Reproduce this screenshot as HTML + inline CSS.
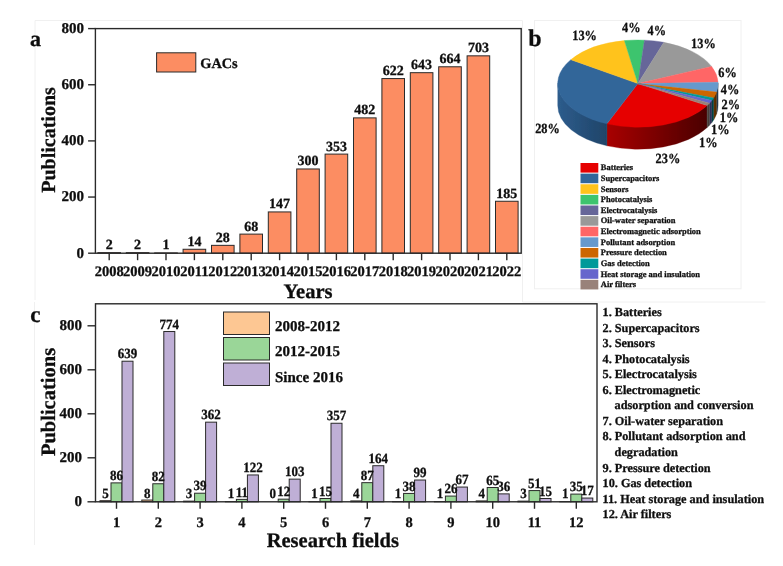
<!DOCTYPE html>
<html><head><meta charset="utf-8"><title>GACs publications</title>
<style>
html,body{margin:0;padding:0;background:#fff;}
svg{display:block;}
text{font-family:"Liberation Serif",serif;font-weight:bold;fill:#111;stroke:#111;stroke-width:0.3px;text-rendering:geometricPrecision;}
</style></head><body>
<svg width="783" height="566" viewBox="0 0 783 566">
<defs>
<filter id="soft" x="-5%" y="-5%" width="110%" height="110%"><feGaussianBlur stdDeviation="0.45"/></filter>
</defs>
<rect width="783" height="566" fill="#fff"/>
<g filter="url(#soft)">

<path d="M35 300V20.5H522.5V302H765.5" fill="none" stroke="#f0f0f0" stroke-width="1"/>
<rect x="534.5" y="20.5" width="206.5" height="268.3" fill="none" stroke="#f0f0f0" stroke-width="1"/>
<path d="M34.5 302V545" fill="none" stroke="#f0f0f0" stroke-width="1"/>
<text x="30" y="46" font-size="22">a</text>
<rect x="97.90" y="252.64" width="22.6" height="0.56" fill="#fc8d62" stroke="#2a2a2a" stroke-width="1"/>
<text x="109.20" y="249.14" font-size="14" text-anchor="middle">2</text>
<rect x="126.30" y="252.64" width="22.6" height="0.56" fill="#fc8d62" stroke="#2a2a2a" stroke-width="1"/>
<text x="137.60" y="249.14" font-size="14" text-anchor="middle">2</text>
<rect x="154.70" y="252.92" width="22.6" height="0.28" fill="#fc8d62" stroke="#2a2a2a" stroke-width="1"/>
<text x="166.00" y="249.42" font-size="14" text-anchor="middle">1</text>
<rect x="183.10" y="249.27" width="22.6" height="3.93" fill="#fc8d62" stroke="#2a2a2a" stroke-width="1"/>
<text x="194.40" y="245.77" font-size="14" text-anchor="middle">14</text>
<rect x="211.50" y="245.34" width="22.6" height="7.86" fill="#fc8d62" stroke="#2a2a2a" stroke-width="1"/>
<text x="222.80" y="241.84" font-size="14" text-anchor="middle">28</text>
<rect x="239.90" y="234.11" width="22.6" height="19.09" fill="#fc8d62" stroke="#2a2a2a" stroke-width="1"/>
<text x="251.20" y="230.61" font-size="14" text-anchor="middle">68</text>
<rect x="268.30" y="211.93" width="22.6" height="41.27" fill="#fc8d62" stroke="#2a2a2a" stroke-width="1"/>
<text x="279.60" y="208.43" font-size="14" text-anchor="middle">147</text>
<rect x="296.70" y="168.97" width="22.6" height="84.22" fill="#fc8d62" stroke="#2a2a2a" stroke-width="1"/>
<text x="308.00" y="165.47" font-size="14" text-anchor="middle">300</text>
<rect x="325.10" y="154.10" width="22.6" height="99.10" fill="#fc8d62" stroke="#2a2a2a" stroke-width="1"/>
<text x="336.40" y="150.60" font-size="14" text-anchor="middle">353</text>
<rect x="353.50" y="117.88" width="22.6" height="135.32" fill="#fc8d62" stroke="#2a2a2a" stroke-width="1"/>
<text x="364.80" y="114.38" font-size="14" text-anchor="middle">482</text>
<rect x="381.90" y="78.57" width="22.6" height="174.63" fill="#fc8d62" stroke="#2a2a2a" stroke-width="1"/>
<text x="393.20" y="75.07" font-size="14" text-anchor="middle">622</text>
<rect x="410.30" y="72.68" width="22.6" height="180.52" fill="#fc8d62" stroke="#2a2a2a" stroke-width="1"/>
<text x="421.60" y="69.18" font-size="14" text-anchor="middle">643</text>
<rect x="438.70" y="66.78" width="22.6" height="186.42" fill="#fc8d62" stroke="#2a2a2a" stroke-width="1"/>
<text x="450.00" y="63.28" font-size="14" text-anchor="middle">664</text>
<rect x="467.10" y="55.83" width="22.6" height="197.37" fill="#fc8d62" stroke="#2a2a2a" stroke-width="1"/>
<text x="478.40" y="52.33" font-size="14" text-anchor="middle">703</text>
<rect x="495.50" y="201.26" width="22.6" height="51.94" fill="#fc8d62" stroke="#2a2a2a" stroke-width="1"/>
<text x="506.80" y="197.76" font-size="14" text-anchor="middle">185</text>
<rect x="95.4" y="28.6" width="425.80" height="224.60" fill="none" stroke="#2a2a2a" stroke-width="1.4"/>
<path d="M88.10000000000001 253.20H95.4" stroke="#2a2a2a" stroke-width="1.4"/>
<text x="83.9" y="257.50" font-size="15" text-anchor="end">0</text>
<path d="M88.10000000000001 197.05H95.4" stroke="#2a2a2a" stroke-width="1.4"/>
<text x="83.9" y="201.35" font-size="15" text-anchor="end">200</text>
<path d="M88.10000000000001 140.90H95.4" stroke="#2a2a2a" stroke-width="1.4"/>
<text x="83.9" y="145.20" font-size="15" text-anchor="end">400</text>
<path d="M88.10000000000001 84.75H95.4" stroke="#2a2a2a" stroke-width="1.4"/>
<text x="83.9" y="89.05" font-size="15" text-anchor="end">600</text>
<path d="M88.10000000000001 28.60H95.4" stroke="#2a2a2a" stroke-width="1.4"/>
<text x="83.9" y="32.90" font-size="15" text-anchor="end">800</text>
<path d="M109.20 253.2V260.2" stroke="#2a2a2a" stroke-width="1.4"/>
<text x="109.20" y="276.3" font-size="14.5" text-anchor="middle">2008</text>
<path d="M137.60 253.2V260.2" stroke="#2a2a2a" stroke-width="1.4"/>
<text x="137.60" y="276.3" font-size="14.5" text-anchor="middle">2009</text>
<path d="M166.00 253.2V260.2" stroke="#2a2a2a" stroke-width="1.4"/>
<text x="166.00" y="276.3" font-size="14.5" text-anchor="middle">2010</text>
<path d="M194.40 253.2V260.2" stroke="#2a2a2a" stroke-width="1.4"/>
<text x="194.40" y="276.3" font-size="14.5" text-anchor="middle">2011</text>
<path d="M222.80 253.2V260.2" stroke="#2a2a2a" stroke-width="1.4"/>
<text x="222.80" y="276.3" font-size="14.5" text-anchor="middle">2012</text>
<path d="M251.20 253.2V260.2" stroke="#2a2a2a" stroke-width="1.4"/>
<text x="251.20" y="276.3" font-size="14.5" text-anchor="middle">2013</text>
<path d="M279.60 253.2V260.2" stroke="#2a2a2a" stroke-width="1.4"/>
<text x="279.60" y="276.3" font-size="14.5" text-anchor="middle">2014</text>
<path d="M308.00 253.2V260.2" stroke="#2a2a2a" stroke-width="1.4"/>
<text x="308.00" y="276.3" font-size="14.5" text-anchor="middle">2015</text>
<path d="M336.40 253.2V260.2" stroke="#2a2a2a" stroke-width="1.4"/>
<text x="336.40" y="276.3" font-size="14.5" text-anchor="middle">2016</text>
<path d="M364.80 253.2V260.2" stroke="#2a2a2a" stroke-width="1.4"/>
<text x="364.80" y="276.3" font-size="14.5" text-anchor="middle">2017</text>
<path d="M393.20 253.2V260.2" stroke="#2a2a2a" stroke-width="1.4"/>
<text x="393.20" y="276.3" font-size="14.5" text-anchor="middle">2018</text>
<path d="M421.60 253.2V260.2" stroke="#2a2a2a" stroke-width="1.4"/>
<text x="421.60" y="276.3" font-size="14.5" text-anchor="middle">2019</text>
<path d="M450.00 253.2V260.2" stroke="#2a2a2a" stroke-width="1.4"/>
<text x="450.00" y="276.3" font-size="14.5" text-anchor="middle">2020</text>
<path d="M478.40 253.2V260.2" stroke="#2a2a2a" stroke-width="1.4"/>
<text x="478.40" y="276.3" font-size="14.5" text-anchor="middle">2021</text>
<path d="M506.80 253.2V260.2" stroke="#2a2a2a" stroke-width="1.4"/>
<text x="506.80" y="276.3" font-size="14.5" text-anchor="middle">2022</text>
<text transform="translate(54.5 140) rotate(-90)" font-size="20" text-anchor="middle">Publications</text>
<text x="308" y="298" font-size="20.5" text-anchor="middle">Years</text>
<rect x="156.6" y="52.8" width="39.2" height="19.2" fill="#fc8d62" stroke="#2a2a2a" stroke-width="1"/>
<text x="200.3" y="67.8" font-size="14.3">GACs</text>
<text x="528.2" y="46" font-size="24">b</text>
<linearGradient id="g1" gradientUnits="userSpaceOnUse" x1="607.0" y1="0" x2="707.1" y2="0"><stop offset="0" stop-color="#a80000"/><stop offset="1" stop-color="#4a0000"/></linearGradient>
<path d="M707.14 104.90A80.2 43.6 0 0 1 606.95 123.12V145.82A80.2 43.6 0 0 0 707.14 127.60Z" fill="url(#g1)" stroke="url(#g1)" stroke-width="0.3"/>
<linearGradient id="g2" gradientUnits="userSpaceOnUse" x1="557.7" y1="0" x2="607.0" y2="0"><stop offset="0" stop-color="#2d5c8c"/><stop offset="1" stop-color="#1f4468"/></linearGradient>
<path d="M606.95 123.12A80.2 43.6 0 0 1 557.70 82.90V105.60A80.2 43.6 0 0 0 606.95 145.82Z" fill="url(#g2)" stroke="url(#g2)" stroke-width="0.3"/>
<linearGradient id="g3" gradientUnits="userSpaceOnUse" x1="716.6" y1="0" x2="718.1" y2="0"><stop offset="0" stop-color="#2a4560"/><stop offset="1" stop-color="#20303f"/></linearGradient>
<path d="M718.10 82.90A80.2 43.6 0 0 1 716.57 91.37V114.07A80.2 43.6 0 0 0 718.10 105.60Z" fill="url(#g3)" stroke="url(#g3)" stroke-width="0.3"/>
<linearGradient id="g4" gradientUnits="userSpaceOnUse" x1="713.6" y1="0" x2="716.6" y2="0"><stop offset="0" stop-color="#6b3800"/><stop offset="1" stop-color="#4a2600"/></linearGradient>
<path d="M716.57 91.37A80.2 43.6 0 0 1 713.64 97.24V119.94A80.2 43.6 0 0 0 716.57 114.07Z" fill="url(#g4)" stroke="url(#g4)" stroke-width="0.3"/>
<linearGradient id="g5" gradientUnits="userSpaceOnUse" x1="711.8" y1="0" x2="713.6" y2="0"><stop offset="0" stop-color="#004d4d"/><stop offset="1" stop-color="#003535"/></linearGradient>
<path d="M713.64 97.24A80.2 43.6 0 0 1 711.83 99.80V122.50A80.2 43.6 0 0 0 713.64 119.94Z" fill="url(#g5)" stroke="url(#g5)" stroke-width="0.3"/>
<linearGradient id="g6" gradientUnits="userSpaceOnUse" x1="709.5" y1="0" x2="711.8" y2="0"><stop offset="0" stop-color="#33335f"/><stop offset="1" stop-color="#2a2a4a"/></linearGradient>
<path d="M711.83 99.80A80.2 43.6 0 0 1 709.55 102.49V125.19A80.2 43.6 0 0 0 711.83 122.50Z" fill="url(#g6)" stroke="url(#g6)" stroke-width="0.3"/>
<linearGradient id="g7" gradientUnits="userSpaceOnUse" x1="707.1" y1="0" x2="709.5" y2="0"><stop offset="0" stop-color="#4d4540"/><stop offset="1" stop-color="#403834"/></linearGradient>
<path d="M709.55 102.49A80.2 43.6 0 0 1 707.14 104.90V127.60A80.2 43.6 0 0 0 709.55 125.19Z" fill="url(#g7)" stroke="url(#g7)" stroke-width="0.3"/>
<path d="M637.9 83.6L707.14 105.60A80.2 43.6 0 0 1 606.95 123.82Z" fill="#e60000" stroke="#e60000" stroke-width="0.4"/>
<path d="M637.9 83.6L606.95 123.82A80.2 43.6 0 0 1 570.87 59.66Z" fill="#336699" stroke="#336699" stroke-width="0.4"/>
<path d="M637.9 83.6L570.87 59.66A80.2 43.6 0 0 1 624.39 40.62Z" fill="#ffc31f" stroke="#ffc31f" stroke-width="0.4"/>
<path d="M637.9 83.6L624.39 40.62A80.2 43.6 0 0 1 644.47 40.15Z" fill="#3cc46e" stroke="#3cc46e" stroke-width="0.4"/>
<path d="M637.9 83.6L644.47 40.15A80.2 43.6 0 0 1 663.88 42.35Z" fill="#666699" stroke="#666699" stroke-width="0.4"/>
<path d="M637.9 83.6L663.88 42.35A80.2 43.6 0 0 1 711.61 66.42Z" fill="#999999" stroke="#999999" stroke-width="0.4"/>
<path d="M637.9 83.6L711.61 66.42A80.2 43.6 0 0 1 718.06 82.31Z" fill="#ff6666" stroke="#ff6666" stroke-width="0.4"/>
<path d="M637.9 83.6L718.06 82.31A80.2 43.6 0 0 1 716.57 92.07Z" fill="#6699cc" stroke="#6699cc" stroke-width="0.4"/>
<path d="M637.9 83.6L716.57 92.07A80.2 43.6 0 0 1 713.64 97.94Z" fill="#cc6600" stroke="#cc6600" stroke-width="0.4"/>
<path d="M637.9 83.6L713.64 97.94A80.2 43.6 0 0 1 711.83 100.50Z" fill="#009999" stroke="#009999" stroke-width="0.4"/>
<path d="M637.9 83.6L711.83 100.50A80.2 43.6 0 0 1 709.55 103.19Z" fill="#6666cc" stroke="#6666cc" stroke-width="0.4"/>
<path d="M637.9 83.6L709.55 103.19A80.2 43.6 0 0 1 707.14 105.60Z" fill="#99827a" stroke="#99827a" stroke-width="0.4"/>
<text transform="translate(584.6 39.5) scale(0.88 1)" font-size="14" text-anchor="middle" stroke="#111" stroke-width="0.35">13%</text>
<text transform="translate(631.3 32.4) scale(0.88 1)" font-size="14" text-anchor="middle" stroke="#111" stroke-width="0.35">4%</text>
<text transform="translate(656.8 34.7) scale(0.88 1)" font-size="14" text-anchor="middle" stroke="#111" stroke-width="0.35">4%</text>
<text transform="translate(703.4 48.2) scale(0.88 1)" font-size="14" text-anchor="middle" stroke="#111" stroke-width="0.35">13%</text>
<text transform="translate(727.6 77.4) scale(0.88 1)" font-size="14" text-anchor="middle" stroke="#111" stroke-width="0.35">6%</text>
<text transform="translate(730 93.7) scale(0.88 1)" font-size="14" text-anchor="middle" stroke="#111" stroke-width="0.35">4%</text>
<text transform="translate(730.8 108.6) scale(0.88 1)" font-size="14" text-anchor="middle" stroke="#111" stroke-width="0.35">2%</text>
<text transform="translate(729 121.8) scale(0.88 1)" font-size="14" text-anchor="middle" stroke="#111" stroke-width="0.35">1%</text>
<text transform="translate(720.3 133.6) scale(0.88 1)" font-size="14" text-anchor="middle" stroke="#111" stroke-width="0.35">1%</text>
<text transform="translate(708.3 147) scale(0.88 1)" font-size="14" text-anchor="middle" stroke="#111" stroke-width="0.35">1%</text>
<text transform="translate(667.9 162.5) scale(0.88 1)" font-size="14" text-anchor="middle" stroke="#111" stroke-width="0.35">23%</text>
<text transform="translate(547.5 133) scale(0.88 1)" font-size="14" text-anchor="middle" stroke="#111" stroke-width="0.35">28%</text>
<rect x="580.5" y="163.00" width="17.8" height="9.6" fill="#e60000"/>
<text x="600.8" y="170.30" font-size="8.45" stroke="#111" stroke-width="0.15">Batteries</text>
<rect x="580.5" y="173.62" width="17.8" height="9.6" fill="#336699"/>
<text x="600.8" y="180.92" font-size="8.45" stroke="#111" stroke-width="0.15">Supercapacitors</text>
<rect x="580.5" y="184.24" width="17.8" height="9.6" fill="#ffc31f"/>
<text x="600.8" y="191.54" font-size="8.45" stroke="#111" stroke-width="0.15">Sensors</text>
<rect x="580.5" y="194.86" width="17.8" height="9.6" fill="#3cc46e"/>
<text x="600.8" y="202.16" font-size="8.45" stroke="#111" stroke-width="0.15">Photocatalysis</text>
<rect x="580.5" y="205.48" width="17.8" height="9.6" fill="#666699"/>
<text x="600.8" y="212.78" font-size="8.45" stroke="#111" stroke-width="0.15">Electrocatalysis</text>
<rect x="580.5" y="216.10" width="17.8" height="9.6" fill="#999999"/>
<text x="600.8" y="223.40" font-size="8.45" stroke="#111" stroke-width="0.15">Oil-water separation</text>
<rect x="580.5" y="226.72" width="17.8" height="9.6" fill="#ff6666"/>
<text x="600.8" y="234.02" font-size="8.45" stroke="#111" stroke-width="0.15">Electromagnetic adsorption</text>
<rect x="580.5" y="237.34" width="17.8" height="9.6" fill="#6699cc"/>
<text x="600.8" y="244.64" font-size="8.45" stroke="#111" stroke-width="0.15">Pollutant adsorption</text>
<rect x="580.5" y="247.96" width="17.8" height="9.6" fill="#cc6600"/>
<text x="600.8" y="255.26" font-size="8.45" stroke="#111" stroke-width="0.15">Pressure detection</text>
<rect x="580.5" y="258.58" width="17.8" height="9.6" fill="#009999"/>
<text x="600.8" y="265.88" font-size="8.45" stroke="#111" stroke-width="0.15">Gas detection</text>
<rect x="580.5" y="269.20" width="17.8" height="9.6" fill="#6666cc"/>
<text x="600.8" y="276.50" font-size="8.45" stroke="#111" stroke-width="0.15">Heat storage and insulation</text>
<rect x="580.5" y="279.82" width="17.8" height="9.6" fill="#99827a"/>
<text x="600.8" y="287.12" font-size="8.45" stroke="#111" stroke-width="0.15">Air filters</text>
<text x="30.3" y="322" font-size="23">c</text>
<rect x="100.00" y="500.70" width="11.0" height="1.10" fill="#fdc793" stroke="#2a2a2a" stroke-width="1"/>
<rect x="111.00" y="482.88" width="11.0" height="18.92" fill="#9ad698" stroke="#2a2a2a" stroke-width="1"/>
<rect x="122.00" y="361.22" width="11.0" height="140.58" fill="#bfafd6" stroke="#2a2a2a" stroke-width="1"/>
<rect x="141.80" y="500.04" width="11.0" height="1.76" fill="#fdc793" stroke="#2a2a2a" stroke-width="1"/>
<rect x="152.80" y="483.76" width="11.0" height="18.04" fill="#9ad698" stroke="#2a2a2a" stroke-width="1"/>
<rect x="163.80" y="331.52" width="11.0" height="170.28" fill="#bfafd6" stroke="#2a2a2a" stroke-width="1"/>
<rect x="183.60" y="501.14" width="11.0" height="0.66" fill="#fdc793" stroke="#2a2a2a" stroke-width="1"/>
<rect x="194.60" y="493.22" width="11.0" height="8.58" fill="#9ad698" stroke="#2a2a2a" stroke-width="1"/>
<rect x="205.60" y="422.16" width="11.0" height="79.64" fill="#bfafd6" stroke="#2a2a2a" stroke-width="1"/>
<rect x="225.40" y="501.58" width="11.0" height="0.22" fill="#fdc793" stroke="#2a2a2a" stroke-width="1"/>
<rect x="236.40" y="499.38" width="11.0" height="2.42" fill="#9ad698" stroke="#2a2a2a" stroke-width="1"/>
<rect x="247.40" y="474.96" width="11.0" height="26.84" fill="#bfafd6" stroke="#2a2a2a" stroke-width="1"/>
<rect x="278.20" y="499.16" width="11.0" height="2.64" fill="#9ad698" stroke="#2a2a2a" stroke-width="1"/>
<rect x="289.20" y="479.14" width="11.0" height="22.66" fill="#bfafd6" stroke="#2a2a2a" stroke-width="1"/>
<rect x="309.00" y="501.58" width="11.0" height="0.22" fill="#fdc793" stroke="#2a2a2a" stroke-width="1"/>
<rect x="320.00" y="498.50" width="11.0" height="3.30" fill="#9ad698" stroke="#2a2a2a" stroke-width="1"/>
<rect x="331.00" y="423.26" width="11.0" height="78.54" fill="#bfafd6" stroke="#2a2a2a" stroke-width="1"/>
<rect x="350.80" y="500.92" width="11.0" height="0.88" fill="#fdc793" stroke="#2a2a2a" stroke-width="1"/>
<rect x="361.80" y="482.66" width="11.0" height="19.14" fill="#9ad698" stroke="#2a2a2a" stroke-width="1"/>
<rect x="372.80" y="465.72" width="11.0" height="36.08" fill="#bfafd6" stroke="#2a2a2a" stroke-width="1"/>
<rect x="392.60" y="501.58" width="11.0" height="0.22" fill="#fdc793" stroke="#2a2a2a" stroke-width="1"/>
<rect x="403.60" y="493.44" width="11.0" height="8.36" fill="#9ad698" stroke="#2a2a2a" stroke-width="1"/>
<rect x="414.60" y="480.02" width="11.0" height="21.78" fill="#bfafd6" stroke="#2a2a2a" stroke-width="1"/>
<rect x="434.40" y="501.58" width="11.0" height="0.22" fill="#fdc793" stroke="#2a2a2a" stroke-width="1"/>
<rect x="445.40" y="496.08" width="11.0" height="5.72" fill="#9ad698" stroke="#2a2a2a" stroke-width="1"/>
<rect x="456.40" y="487.06" width="11.0" height="14.74" fill="#bfafd6" stroke="#2a2a2a" stroke-width="1"/>
<rect x="476.20" y="500.92" width="11.0" height="0.88" fill="#fdc793" stroke="#2a2a2a" stroke-width="1"/>
<rect x="487.20" y="487.50" width="11.0" height="14.30" fill="#9ad698" stroke="#2a2a2a" stroke-width="1"/>
<rect x="498.20" y="493.88" width="11.0" height="7.92" fill="#bfafd6" stroke="#2a2a2a" stroke-width="1"/>
<rect x="518.00" y="501.14" width="11.0" height="0.66" fill="#fdc793" stroke="#2a2a2a" stroke-width="1"/>
<rect x="529.00" y="490.58" width="11.0" height="11.22" fill="#9ad698" stroke="#2a2a2a" stroke-width="1"/>
<rect x="540.00" y="498.50" width="11.0" height="3.30" fill="#bfafd6" stroke="#2a2a2a" stroke-width="1"/>
<rect x="559.80" y="501.58" width="11.0" height="0.22" fill="#fdc793" stroke="#2a2a2a" stroke-width="1"/>
<rect x="570.80" y="494.10" width="11.0" height="7.70" fill="#9ad698" stroke="#2a2a2a" stroke-width="1"/>
<rect x="581.80" y="498.06" width="11.0" height="3.74" fill="#bfafd6" stroke="#2a2a2a" stroke-width="1"/>
<text transform="translate(105.50 498.00) scale(0.93 1)" font-size="14" text-anchor="middle">5</text>
<text transform="translate(116.50 480.08) scale(0.93 1)" font-size="14" text-anchor="middle">86</text>
<text transform="translate(127.50 358.42) scale(0.93 1)" font-size="14" text-anchor="middle">639</text>
<text transform="translate(147.30 498.00) scale(0.93 1)" font-size="14" text-anchor="middle">8</text>
<text transform="translate(158.30 480.96) scale(0.93 1)" font-size="14" text-anchor="middle">82</text>
<text transform="translate(169.30 328.72) scale(0.93 1)" font-size="14" text-anchor="middle">774</text>
<text transform="translate(189.10 498.00) scale(0.93 1)" font-size="14" text-anchor="middle">3</text>
<text transform="translate(200.10 490.42) scale(0.93 1)" font-size="14" text-anchor="middle">39</text>
<text transform="translate(211.10 419.36) scale(0.93 1)" font-size="14" text-anchor="middle">362</text>
<text transform="translate(230.90 498.00) scale(0.93 1)" font-size="14" text-anchor="middle">1</text>
<text transform="translate(241.90 496.58) scale(0.93 1)" font-size="14" text-anchor="middle">11</text>
<text transform="translate(252.90 472.16) scale(0.93 1)" font-size="14" text-anchor="middle">122</text>
<text transform="translate(272.70 498.00) scale(0.93 1)" font-size="14" text-anchor="middle">0</text>
<text transform="translate(283.70 496.36) scale(0.93 1)" font-size="14" text-anchor="middle">12</text>
<text transform="translate(294.70 476.34) scale(0.93 1)" font-size="14" text-anchor="middle">103</text>
<text transform="translate(314.50 498.00) scale(0.93 1)" font-size="14" text-anchor="middle">1</text>
<text transform="translate(325.50 495.70) scale(0.93 1)" font-size="14" text-anchor="middle">15</text>
<text transform="translate(336.50 420.46) scale(0.93 1)" font-size="14" text-anchor="middle">357</text>
<text transform="translate(356.30 498.00) scale(0.93 1)" font-size="14" text-anchor="middle">4</text>
<text transform="translate(367.30 479.86) scale(0.93 1)" font-size="14" text-anchor="middle">87</text>
<text transform="translate(378.30 462.92) scale(0.93 1)" font-size="14" text-anchor="middle">164</text>
<text transform="translate(398.10 498.00) scale(0.93 1)" font-size="14" text-anchor="middle">1</text>
<text transform="translate(409.10 490.64) scale(0.93 1)" font-size="14" text-anchor="middle">38</text>
<text transform="translate(420.10 477.22) scale(0.93 1)" font-size="14" text-anchor="middle">99</text>
<text transform="translate(439.90 498.00) scale(0.93 1)" font-size="14" text-anchor="middle">1</text>
<text transform="translate(450.90 493.28) scale(0.93 1)" font-size="14" text-anchor="middle">26</text>
<text transform="translate(461.90 484.26) scale(0.93 1)" font-size="14" text-anchor="middle">67</text>
<text transform="translate(481.70 498.00) scale(0.93 1)" font-size="14" text-anchor="middle">4</text>
<text transform="translate(492.70 484.70) scale(0.93 1)" font-size="14" text-anchor="middle">65</text>
<text transform="translate(503.70 491.08) scale(0.93 1)" font-size="14" text-anchor="middle">36</text>
<text transform="translate(523.50 498.00) scale(0.93 1)" font-size="14" text-anchor="middle">3</text>
<text transform="translate(534.50 487.78) scale(0.93 1)" font-size="14" text-anchor="middle">51</text>
<text transform="translate(545.50 495.70) scale(0.93 1)" font-size="14" text-anchor="middle">15</text>
<text transform="translate(565.30 498.00) scale(0.93 1)" font-size="14" text-anchor="middle">1</text>
<text transform="translate(576.30 491.30) scale(0.93 1)" font-size="14" text-anchor="middle">35</text>
<text transform="translate(587.30 495.26) scale(0.93 1)" font-size="14" text-anchor="middle">17</text>
<rect x="95.5" y="303.8" width="501.50" height="198.00" fill="none" stroke="#2a2a2a" stroke-width="1.4"/>
<path d="M87.5 501.80H95.5" stroke="#2a2a2a" stroke-width="1.4"/>
<text x="82.0" y="505.80" font-size="15" text-anchor="end">0</text>
<path d="M87.5 457.80H95.5" stroke="#2a2a2a" stroke-width="1.4"/>
<text x="82.0" y="461.80" font-size="15" text-anchor="end">200</text>
<path d="M87.5 413.80H95.5" stroke="#2a2a2a" stroke-width="1.4"/>
<text x="82.0" y="417.80" font-size="15" text-anchor="end">400</text>
<path d="M87.5 369.80H95.5" stroke="#2a2a2a" stroke-width="1.4"/>
<text x="82.0" y="373.80" font-size="15" text-anchor="end">600</text>
<path d="M87.5 325.80H95.5" stroke="#2a2a2a" stroke-width="1.4"/>
<text x="82.0" y="329.80" font-size="15" text-anchor="end">800</text>
<path d="M116.50 501.8V508.8" stroke="#2a2a2a" stroke-width="1.4"/>
<text x="116.50" y="527.3" font-size="14.5" text-anchor="middle">1</text>
<path d="M158.30 501.8V508.8" stroke="#2a2a2a" stroke-width="1.4"/>
<text x="158.30" y="527.3" font-size="14.5" text-anchor="middle">2</text>
<path d="M200.10 501.8V508.8" stroke="#2a2a2a" stroke-width="1.4"/>
<text x="200.10" y="527.3" font-size="14.5" text-anchor="middle">3</text>
<path d="M241.90 501.8V508.8" stroke="#2a2a2a" stroke-width="1.4"/>
<text x="241.90" y="527.3" font-size="14.5" text-anchor="middle">4</text>
<path d="M283.70 501.8V508.8" stroke="#2a2a2a" stroke-width="1.4"/>
<text x="283.70" y="527.3" font-size="14.5" text-anchor="middle">5</text>
<path d="M325.50 501.8V508.8" stroke="#2a2a2a" stroke-width="1.4"/>
<text x="325.50" y="527.3" font-size="14.5" text-anchor="middle">6</text>
<path d="M367.30 501.8V508.8" stroke="#2a2a2a" stroke-width="1.4"/>
<text x="367.30" y="527.3" font-size="14.5" text-anchor="middle">7</text>
<path d="M409.10 501.8V508.8" stroke="#2a2a2a" stroke-width="1.4"/>
<text x="409.10" y="527.3" font-size="14.5" text-anchor="middle">8</text>
<path d="M450.90 501.8V508.8" stroke="#2a2a2a" stroke-width="1.4"/>
<text x="450.90" y="527.3" font-size="14.5" text-anchor="middle">9</text>
<path d="M492.70 501.8V508.8" stroke="#2a2a2a" stroke-width="1.4"/>
<text x="492.70" y="527.3" font-size="14.5" text-anchor="middle">10</text>
<path d="M534.50 501.8V508.8" stroke="#2a2a2a" stroke-width="1.4"/>
<text x="534.50" y="527.3" font-size="14.5" text-anchor="middle">11</text>
<path d="M576.30 501.8V508.8" stroke="#2a2a2a" stroke-width="1.4"/>
<text x="576.30" y="527.3" font-size="14.5" text-anchor="middle">12</text>
<text transform="translate(55 402) rotate(-90)" font-size="20.5" text-anchor="middle">Publications</text>
<text x="332.8" y="547" font-size="20.5" text-anchor="middle">Research fields</text>
<rect x="223.5" y="312.0" width="46" height="22.5" fill="#fdc793" stroke="#2a2a2a" stroke-width="1"/>
<text x="275" y="330.5" font-size="15">2008-2012</text>
<rect x="223.5" y="337.5" width="46" height="22.5" fill="#9ad698" stroke="#2a2a2a" stroke-width="1"/>
<text x="275" y="356.0" font-size="15">2012-2015</text>
<rect x="223.5" y="363.0" width="46" height="22.5" fill="#bfafd6" stroke="#2a2a2a" stroke-width="1"/>
<text x="275" y="381.5" font-size="15">Since 2016</text>
<text x="602.5" y="316.00" font-size="12.25">1. Batteries</text>
<text x="602.5" y="331.55" font-size="12.25">2. Supercapacitors</text>
<text x="602.5" y="347.10" font-size="12.25">3. Sensors</text>
<text x="602.5" y="362.65" font-size="12.25">4. Photocatalysis</text>
<text x="602.5" y="378.20" font-size="12.25">5. Electrocatalysis</text>
<text x="602.5" y="393.75" font-size="12.25">6. Electromagnetic</text>
<text x="614.6" y="409.30" font-size="12.25">adsorption and conversion</text>
<text x="602.5" y="424.85" font-size="12.25">7. Oil-water separation</text>
<text x="602.5" y="440.40" font-size="12.25">8. Pollutant adsorption and</text>
<text x="614.6" y="455.95" font-size="12.25">degradation</text>
<text x="602.5" y="471.50" font-size="12.25">9. Pressure detection</text>
<text x="602.5" y="487.05" font-size="12.25">10. Gas detection</text>
<text x="602.5" y="502.60" font-size="12.25">11. Heat storage and insulation</text>
<text x="602.5" y="518.15" font-size="12.25">12. Air filters</text>
</g></svg></body></html>
